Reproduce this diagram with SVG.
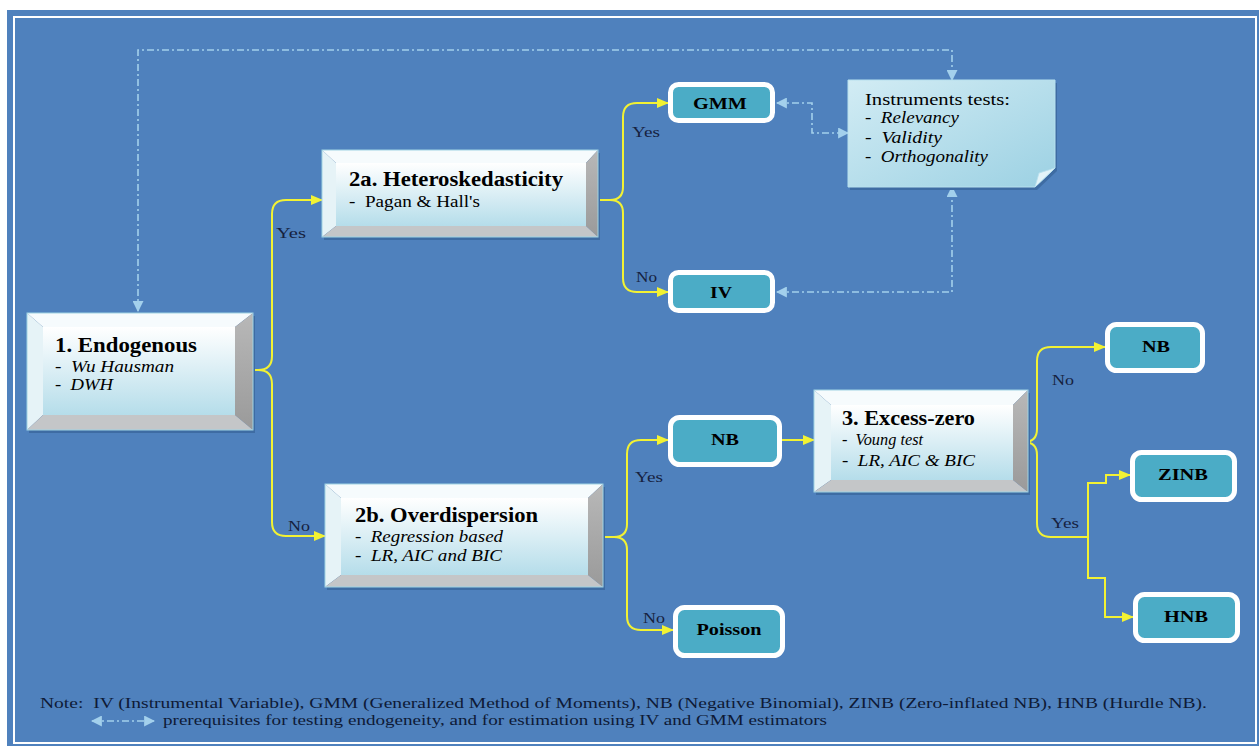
<svg xmlns="http://www.w3.org/2000/svg" width="1259" height="746" viewBox="0 0 1259 746" font-family="'Liberation Serif', 'Times New Roman', Tinos, serif">
<style>
text{white-space:pre}
.t{fill:#000}
.h{font-weight:bold;font-size:20px}
.i{font-style:italic;font-size:16px}
.r{font-size:16px}
.b{font-weight:bold;font-size:17px}
.lab{font-size:15px;fill:#16213F}
.note{font-size:15px;fill:#0E1A36}
.yl{fill:none;stroke:#F2F233;stroke-width:2}
.dl{fill:none;stroke:#A3D0EC;stroke-width:1.6;stroke-dasharray:7 3 2 3}
.teal{fill:#4BACC6;stroke:#FFFFFF;stroke-width:5}
.tb{fill:#F6FBFD}
.lb{fill:#E6F3F7}
.rb{fill:url(#gr)}
.bb{fill:#C4C6C8}
.face{fill:url(#gf)}
.ol{fill:none;stroke:#9FD3E4;stroke-width:1}
.sh{fill:#3E6CA3}
</style>
<defs>
<linearGradient id="gf" x1="0" y1="0" x2="0" y2="1"><stop offset="0" stop-color="#FFFFFF"/><stop offset="1" stop-color="#B5DDEA"/></linearGradient>
<linearGradient id="gr" x1="0" y1="0" x2="0" y2="1"><stop offset="0" stop-color="#B8B8B8"/><stop offset="1" stop-color="#9A9A9A"/></linearGradient>
<linearGradient id="gn" x1="0" y1="0" x2="1" y2="1"><stop offset="0" stop-color="#D2ECF4"/><stop offset="1" stop-color="#9CD1E3"/></linearGradient>
<marker id="ya" viewBox="0 0 12 10" refX="11" refY="5" markerWidth="12" markerHeight="10" markerUnits="userSpaceOnUse" orient="auto"><path d="M0,0 L12,5 L0,10 Z" fill="#F2F233"/></marker>
<marker id="da" viewBox="0 0 10 10" refX="9" refY="5" markerWidth="11" markerHeight="11" markerUnits="userSpaceOnUse" orient="auto-start-reverse"><path d="M0,0 L10,5 L0,10 Z" fill="#A3D0EC"/></marker>
</defs>

<rect x="0" y="0" width="1259" height="746" fill="#FFFFFF"/>
<rect x="7" y="10" width="1252" height="736" fill="#4F81BD"/>
<rect x="14" y="17" width="1242" height="726" fill="none" stroke="#FFFFFF" stroke-width="2"/>

<g id="connectors">
<path class="yl" d="M235,370 L258,370 Q272,370 272,356 L272,214 Q272,200 286,200 L322,200" marker-end="url(#ya)"/>
<path class="yl" d="M258,370 Q272,370 272,384 L272,522 Q272,536 286,536 L325,536" marker-end="url(#ya)"/>
<path class="yl" d="M598,200 L610,200 Q623,200 623,187 L623,117 Q623,103 637,103 L668,103" marker-end="url(#ya)"/>
<path class="yl" d="M610,200 Q623,200 623,213 L623,278 Q623,292 637,292 L668,292" marker-end="url(#ya)"/>
<path class="yl" d="M603,537 L614,537 Q627,537 627,524 L627,454 Q627,440 641,440 L668,440" marker-end="url(#ya)"/>
<path class="yl" d="M614,537 Q627,537 627,550 L627,616 Q627,630 641,630 L673,630" marker-end="url(#ya)"/>
<path class="yl" d="M782,440 L814,440" marker-end="url(#ya)"/>
<path class="yl" d="M1013,442 L1024,442 Q1037,442 1037,429 L1037,361 Q1037,347 1051,347 L1105,347" marker-end="url(#ya)"/>
<path class="yl" d="M1024,442 Q1037,442 1037,455 L1037,523 Q1037,537 1051,537 L1088,537"/>
<path class="yl" d="M1088,537 L1088,483 L1106,483 L1106,475 L1130,475" marker-end="url(#ya)"/>
<path class="yl" d="M1088,537 L1088,578 L1105,578 L1105,617 L1133,617" marker-end="url(#ya)"/>
<path class="dl" d="M138,311 L138,50 L952,50 L952,80" marker-start="url(#da)" marker-end="url(#da)"/>
<path class="dl" d="M777,103 L812,103 L812,133 L848,133" marker-start="url(#da)" marker-end="url(#da)"/>
<path class="dl" d="M777,292 L952,292 L952,187" marker-start="url(#da)" marker-end="url(#da)"/>
<text class="lab" x="276" y="238" textLength="30" lengthAdjust="spacingAndGlyphs">Yes</text>
<text class="lab" x="288" y="531" textLength="22" lengthAdjust="spacingAndGlyphs">No</text>
<text class="lab" x="632" y="137" textLength="28" lengthAdjust="spacingAndGlyphs">Yes</text>
<text class="lab" x="636" y="282" textLength="21" lengthAdjust="spacingAndGlyphs">No</text>
<text class="lab" x="635" y="482" textLength="28" lengthAdjust="spacingAndGlyphs">Yes</text>
<text class="lab" x="643" y="623" textLength="22" lengthAdjust="spacingAndGlyphs">No</text>
<text class="lab" x="1052" y="385" textLength="22" lengthAdjust="spacingAndGlyphs">No</text>
<text class="lab" x="1051" y="528" textLength="28" lengthAdjust="spacingAndGlyphs">Yes</text>
</g>

<g id="n1">
<rect class="sh" x="29" y="316" width="226" height="117"/>
<polygon class="tb" points="27,313 253,313 235,327 43,327"/>
<polygon class="lb" points="27,313 43,327 43,415 27,430"/>
<polygon class="rb" points="253,313 253,430 235,415 235,327"/>
<polygon class="bb" points="27,430 43,415 235,415 253,430"/>
<rect class="face" x="43" y="327" width="192" height="88"/>
<rect class="ol" x="27" y="313" width="226" height="117"/>
<text class="t h" x="55" y="352" textLength="142" lengthAdjust="spacingAndGlyphs">1. Endogenous</text>
<text class="t i" x="55" y="372" textLength="119" lengthAdjust="spacingAndGlyphs">-  Wu Hausman</text>
<text class="t i" x="55" y="390" textLength="58" lengthAdjust="spacingAndGlyphs">-  DWH</text>
</g>

<g id="n2a">
<rect class="sh" x="324" y="153" width="276" height="87"/>
<polygon class="tb" points="322,150 598,150 586,163 336,163"/>
<polygon class="lb" points="322,150 336,163 336,226 322,237"/>
<polygon class="rb" points="598,150 598,237 586,226 586,163"/>
<polygon class="bb" points="322,237 336,226 586,226 598,237"/>
<rect class="face" x="336" y="163" width="250" height="63"/>
<rect class="ol" x="322" y="150" width="276" height="87"/>
<text class="t h" x="349" y="186" textLength="214" lengthAdjust="spacingAndGlyphs">2a. Heteroskedasticity</text>
<text class="t r" x="349" y="207" textLength="131" lengthAdjust="spacingAndGlyphs">-  Pagan &amp; Hall's</text>
</g>

<g id="n2b">
<rect class="sh" x="327" y="487" width="278" height="103"/>
<polygon class="tb" points="325,484 603,484 588,498 341,498"/>
<polygon class="lb" points="325,484 341,498 341,575 325,587"/>
<polygon class="rb" points="603,484 603,587 588,575 588,498"/>
<polygon class="bb" points="325,587 341,575 588,575 603,587"/>
<rect class="face" x="341" y="498" width="247" height="77"/>
<rect class="ol" x="325" y="484" width="278" height="103"/>
<text class="t h" x="355" y="522" textLength="183" lengthAdjust="spacingAndGlyphs">2b. Overdispersion</text>
<text class="t i" x="355" y="542" textLength="148" lengthAdjust="spacingAndGlyphs">-  Regression based</text>
<text class="t i" x="355" y="561" textLength="147" lengthAdjust="spacingAndGlyphs">-  LR, AIC and BIC</text>
</g>

<g id="n3">
<rect class="sh" x="816" y="393" width="214" height="102"/>
<polygon class="tb" points="814,390 1028,390 1013,405 831,405"/>
<polygon class="lb" points="814,390 831,405 831,480 814,492"/>
<polygon class="rb" points="1028,390 1028,492 1013,480 1013,405"/>
<polygon class="bb" points="814,492 831,480 1013,480 1028,492"/>
<rect class="face" x="831" y="405" width="182" height="75"/>
<rect class="ol" x="814" y="390" width="214" height="102"/>
<text class="t h" x="842" y="425" textLength="133" lengthAdjust="spacingAndGlyphs">3. Excess-zero</text>
<text class="t i" x="842" y="445" textLength="81" lengthAdjust="spacingAndGlyphs">-  Voung test</text>
<text class="t i" x="842" y="466" textLength="133" lengthAdjust="spacingAndGlyphs">-  LR, AIC &amp; BIC</text>
</g>

<g id="gmm">
<rect class="teal" x="670.5" y="84.5" width="102" height="36" rx="8"/>
<text class="t b" x="720" y="109" text-anchor="middle" textLength="54" lengthAdjust="spacingAndGlyphs">GMM</text>
</g>
<g id="iv">
<rect class="teal" x="670.5" y="272.5" width="102" height="38" rx="8"/>
<text class="t b" x="721" y="298" text-anchor="middle" textLength="22" lengthAdjust="spacingAndGlyphs">IV</text>
</g>
<g id="nb1">
<rect class="teal" x="670.5" y="417.5" width="109" height="47" rx="9"/>
<text class="t b" x="725" y="445" text-anchor="middle" textLength="28" lengthAdjust="spacingAndGlyphs">NB</text>
</g>
<g id="poisson">
<rect class="teal" x="675.5" y="607.5" width="107" height="48" rx="9"/>
<text class="t b" x="729" y="635" text-anchor="middle" textLength="65" lengthAdjust="spacingAndGlyphs">Poisson</text>
</g>
<g id="nb2">
<rect class="teal" x="1107.5" y="324.5" width="95" height="46" rx="9"/>
<text class="t b" x="1156" y="352" text-anchor="middle" textLength="28" lengthAdjust="spacingAndGlyphs">NB</text>
</g>
<g id="zinb">
<rect class="teal" x="1132.5" y="452.5" width="102" height="47" rx="9"/>
<text class="t b" x="1183" y="480" text-anchor="middle" textLength="50" lengthAdjust="spacingAndGlyphs">ZINB</text>
</g>
<g id="hnb">
<rect class="teal" x="1135.5" y="594.5" width="102" height="46" rx="9"/>
<text class="t b" x="1186" y="622" text-anchor="middle" textLength="44" lengthAdjust="spacingAndGlyphs">HNB</text>
</g>

<g id="instruments">
<path d="M850,83 L1057,83 L1057,171 L1037,190 L850,190 Z" fill="#3E6CA3"/>
<path d="M848,80 L1055,80 L1055,168 L1035,187 L848,187 Z" fill="url(#gn)" stroke="#B7E0EE" stroke-width="1"/>
<path d="M1035,187 L1039,173 L1055,168 Z" fill="#E4F4F9" stroke="#B7E0EE" stroke-width="0.8"/>
<text class="t r" x="865" y="105" textLength="145" lengthAdjust="spacingAndGlyphs">Instruments tests:</text>
<text class="t i" x="865" y="123" textLength="94" lengthAdjust="spacingAndGlyphs">-  Relevancy</text>
<text class="t i" x="865" y="143" textLength="77" lengthAdjust="spacingAndGlyphs">-  Validity</text>
<text class="t i" x="865" y="162" textLength="123" lengthAdjust="spacingAndGlyphs">-  Orthogonality</text>
</g>

<g id="legend">
<text class="note" x="40" y="708" textLength="1167" lengthAdjust="spacingAndGlyphs">Note:  IV (Instrumental Variable), GMM (Generalized Method of Moments), NB (Negative Binomial), ZINB (Zero-inflated NB), HNB (Hurdle NB).</text>
<path class="dl" d="M92,721 L154,721" stroke-dasharray="5 3" marker-start="url(#da)" marker-end="url(#da)"/>
<text class="note" x="163" y="725" textLength="664" lengthAdjust="spacingAndGlyphs">prerequisites for testing endogeneity, and for estimation using IV and GMM estimators</text>
</g>
</svg>
